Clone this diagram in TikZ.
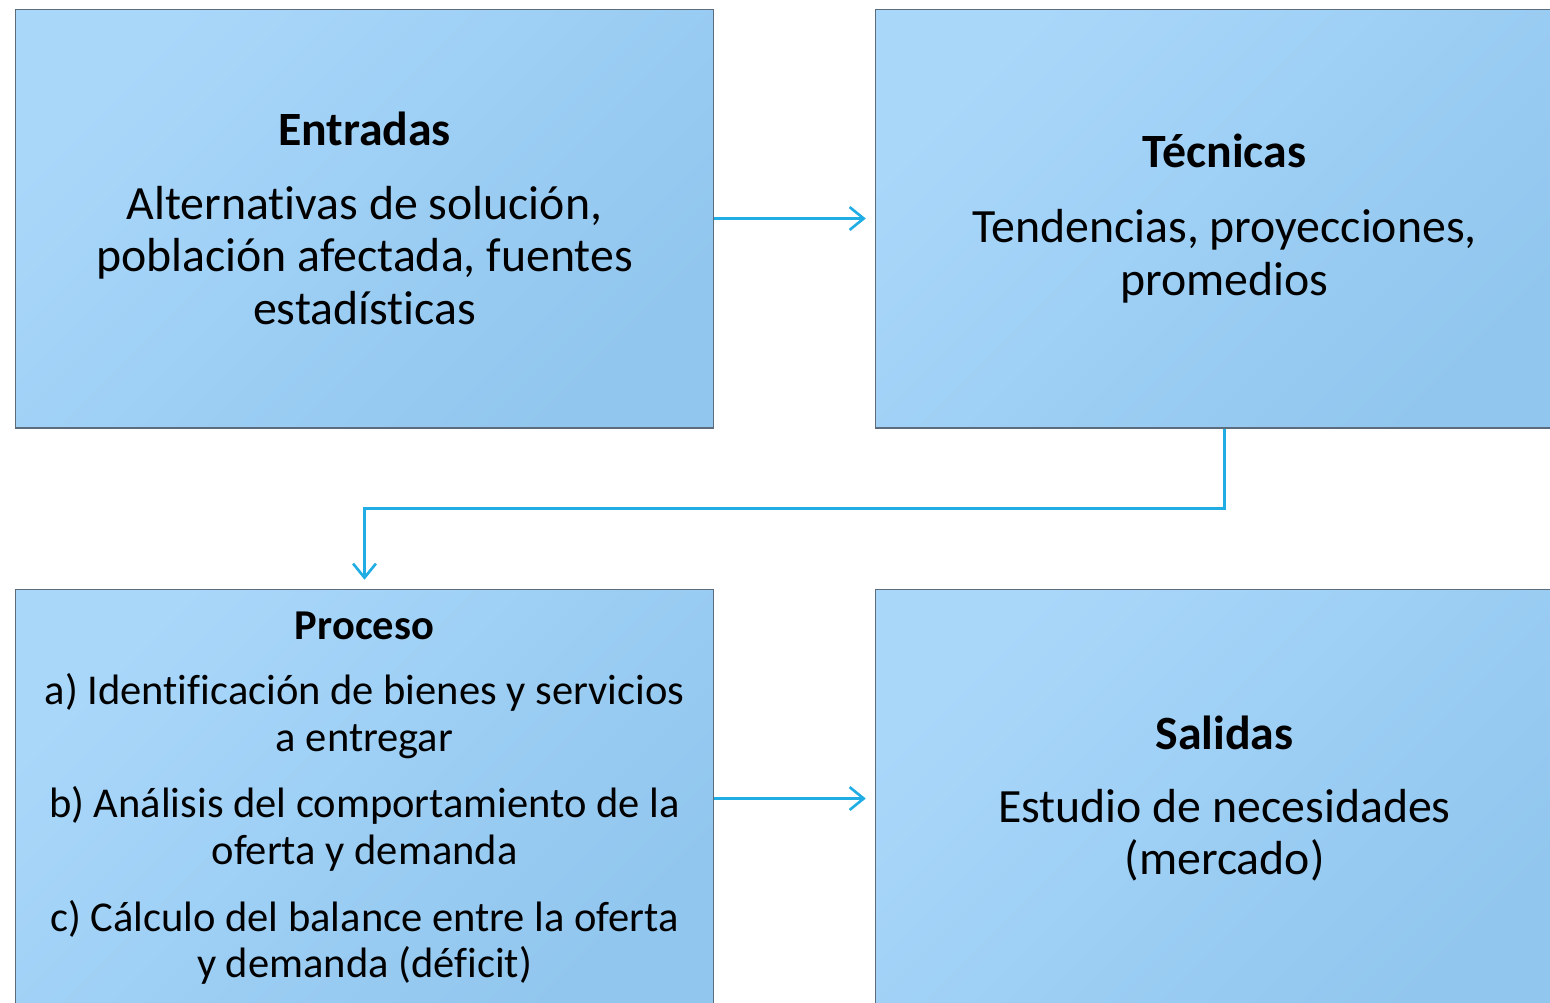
\documentclass[tikz,border=0pt]{standalone}
\usepackage{fontspec}
\setmainfont{Carlito}[Ligatures=NoCommon]
\usetikzlibrary{arrows.meta}
\definecolor{boxlight}{HTML}{A9D7FA}
\definecolor{boxmid}{HTML}{A6D4F8}
\definecolor{boxdark}{HTML}{91C6EE}
\definecolor{boxline}{HTML}{5C6C7C}
\definecolor{arrowblue}{HTML}{1FADE4}
\tikzset{
  flowbox/.style={draw=boxline,line width=0.6pt,top color=boxlight,middle color=boxmid,bottom color=boxdark,shading angle=45,minimum width=13.98cm,minimum height=8.38cm,align=center,inner sep=0pt},
  bigtext/.style={font=\fontsize{27.2}{30}\selectfont},
  smalltext/.style={font=\fontsize{24.2}{26.6}\selectfont},
  flowarrow/.style={draw=arrowblue,line width=1.5pt,-{Straight Barb[length=8pt,width=13pt,line width=1.5pt]},shorten >=5pt}
}
\begin{document}
\begin{tikzpicture}[x=0.02cm,y=-0.02cm]
\useasboundingbox (0,0) rectangle (1550,1002);
\clip (0,0) rectangle (1550,1002);
% boxes
\node[flowbox,bigtext] (ent) at (364.5,218.5) {\textbf{Entradas}\\[12pt]Alternativas de solución,\\población afectada, fuentes\\estadísticas};
\node[flowbox,bigtext] (tec) at (1224.5,218.5) {\textbf{Técnicas}\\[12.5pt]Tendencias, proyecciones,\\promedios};
\node[flowbox,smalltext] (proc) at (364.5,798.5) {\textbf{Proceso}\\[10.3pt]a) Identificación de bienes y servicios\\a entregar\\[11.3pt]b) Análisis del comportamiento de la\\oferta y demanda\\[11.3pt]c) Cálculo del balance entre la oferta\\y demanda (déficit)};
\node[flowbox,bigtext] (sal) at (1224.5,798.5) {\textbf{Salidas}\\[11.5pt]Estudio de necesidades\\(mercado)};
% arrows
\draw[flowarrow] (ent) -- (tec);
\draw[flowarrow] (tec.south) -- ++(0,80) -| (proc.north);
\draw[flowarrow] (proc) -- (sal);
\end{tikzpicture}
\end{document}
